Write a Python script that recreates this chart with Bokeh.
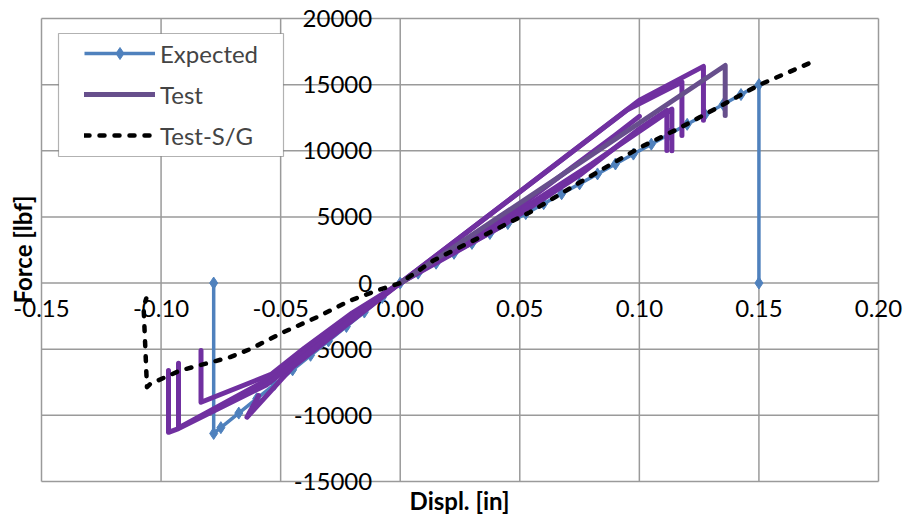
from bokeh.plotting import figure
from bokeh.models import (Range1d, LinearAxis, FixedTicker, NumeralTickFormatter,
                          Legend, LegendItem, BoxAnnotation, Label)
from bokeh.embed import file_html
from bokeh.resources import INLINE

# ---------------- data ----------------
x_ticks = [-0.15, -0.10, -0.05, 0.0, 0.05, 0.10, 0.15, 0.20]
y_ticks = [-15000, -10000, -5000, 0, 5000, 10000, 15000, 20000]

expected_x = [0.15, 0.15, 0.1425, 0.135, 0.1275, 0.12, 0.1125, 0.105, 0.0975, 0.09, 0.0825,
              0.075, 0.0675, 0.06, 0.0525, 0.045, 0.0375, 0.03, 0.0225, 0.015, 0.0075, 0.0,
              -0.0075, -0.015, -0.0225, -0.03, -0.0375, -0.045, -0.0525, -0.06, -0.0675,
              -0.075, -0.078, -0.078]
expected_y = [0, 15000, 14250, 13500, 12750, 12000, 11250, 10500, 9750, 9000, 8250,
              7500, 6750, 6000, 5250, 4500, 3750, 3000, 2250, 1500, 750, 0,
              -1090, -2190, -3280, -4370, -5460, -6560, -7650, -8740, -9830,
              -10930, -11370, 0]

# Test: individual load records (load to peak, then force drop)
test_cycles_x = [
    [0, 0.042, 0.075, 0.1003, 0.1115, 0.1115],
    [0, 0.045, 0.080, 0.1136, 0.1136],
    [0, 0.050, 0.090, 0.1000],
    [0, 0.095, 0.1178, 0.1178],
    [0, 0.1003, 0.1268, 0.1268],
    [0, -0.045, -0.0641, -0.0592],
    [0, -0.020, -0.040, -0.054, -0.0833, -0.0833],
    [0, -0.020, -0.040, -0.055, -0.0927, -0.0927],
    [0, -0.020, -0.040, -0.056, -0.0927, -0.0969, -0.0969],
]
test_cycles_y = [
    [0, 4250, 8150, 11700, 13050, 10030],
    [0, 4900, 9000, 13150, 10000],
    [0, 5800, 11200, 12600],
    [0, 13100, 15200, 11150],
    [0, 13850, 16380, 12300],
    [0, -6350, -10140, -8500],
    [0, -2250, -4900, -6900, -9010, -5100],
    [0, -2450, -5200, -7250, -10950, -6060],
    [0, -2650, -5500, -7700, -11000, -11280, -6610],
]
test_last_x = [0, 0.1359, 0.1359]
test_last_y = [0, 16450, 12670]

sg_x = [0.1707, 0.1498, 0.1254, 0.1163, 0.1003, 0.075, 0.0543, 0.0334, 0.0139, 0.0,
        -0.0097, -0.0209, -0.0348, -0.0488, -0.0627, -0.0711, -0.092, -0.1045, -0.1059,
        -0.1073, -0.1062]
sg_y = [16590, 14950, 12550, 11670, 10250, 7600, 5360, 3470, 1710, 0,
        -560, -1320, -2580, -3710, -4990, -5600, -6610, -7620, -7870,
        -1820, -1165]

# ---------------- layout (pixels) ----------------
W, H = 904, 516
PL, PR, PT, PB = 41, 878, 18, 481          # plot-area edges in pixels
X0, X1 = x_ticks[0], x_ticks[-1]
Y0, Y1 = y_ticks[0], y_ticks[-1]
sx = (X1 - X0) / (PR - PL)
sy = (Y1 - Y0) / (PB - PT)


def px2x(px):
    return X0 + (px - PL) * sx


def px2y(py):
    return Y1 - (py - PT) * sy


FONT = "Lato"
GRID = "#9a9a9a"
BLUE = "#4F81BD"
PURPLE = "#7030A0"
PURPLE2 = "#674F8C"

p = figure(width=W, height=H,
           x_range=Range1d(px2x(0), px2x(W)), y_range=Range1d(px2y(H), px2y(0)),
           x_axis_location=None, y_axis_location=None,
           output_backend="svg", toolbar_location=None,
           min_border=0, min_border_left=0, min_border_right=0,
           min_border_top=0, min_border_bottom=0,
           background_fill_color="white", border_fill_color="white")
p.outline_line_color = None
p.xgrid.visible = False
p.ygrid.visible = False

# grid lines restricted to the plot area
p.segment(x0=x_ticks, y0=[Y0] * len(x_ticks), x1=x_ticks, y1=[Y1] * len(x_ticks),
          line_color=GRID, line_width=1.5, level="underlay")
p.segment(x0=[X0] * len(y_ticks), y0=y_ticks, x1=[X1] * len(y_ticks), y1=y_ticks,
          line_color=GRID, line_width=1.5, level="underlay")

xaxis = LinearAxis(fixed_location=0, ticker=FixedTicker(ticks=x_ticks),
                   formatter=NumeralTickFormatter(format="0.00"),
                   axis_line_color=None, major_tick_line_color=None, minor_tick_line_color=None,
                   major_tick_in=0, major_tick_out=0, major_label_standoff=17,
                   major_label_text_font=FONT, major_label_text_font_size="24px",
                   major_label_text_color="black", level="underlay")
yaxis = LinearAxis(fixed_location=0, ticker=FixedTicker(ticks=y_ticks),
                   formatter=NumeralTickFormatter(format="0"),
                   axis_line_color=None, major_tick_line_color=None, minor_tick_line_color=None,
                   major_tick_in=0, major_tick_out=0, major_label_standoff=28,
                   major_label_text_font=FONT, major_label_text_font_size="24px",
                   major_label_text_color="black", level="underlay")
p.add_layout(xaxis, "below")
p.add_layout(yaxis, "left")

p.add_layout(Label(x=px2x(22), y=px2y(249), text="Force [lbf]", angle=90, angle_units="deg",
                   text_align="center", text_baseline="middle", text_font=FONT,
                   text_font_size="24px", text_font_style="bold", text_color="black"))
p.add_layout(Label(x=px2x(459), y=px2y(500), text="Displ. [in]",
                   text_align="center", text_baseline="middle", text_font=FONT,
                   text_font_size="24px", text_font_style="bold", text_color="black"))

r_exp_line = p.line(expected_x, expected_y, line_color=BLUE, line_width=3.5)
r_exp_mark = p.scatter(expected_x, expected_y, marker="diamond", size=12,
                       fill_color=BLUE, line_color=BLUE)
p.multi_line(test_cycles_x, test_cycles_y, line_color=PURPLE, line_width=5,
             line_join="round", line_cap="round")
r_test = p.line(test_last_x, test_last_y, line_color=PURPLE2, line_width=5,
                line_join="round", line_cap="round")
r_sg = p.line(sg_x, sg_y, line_color="black", line_width=4.5, line_dash="5 10",
              line_cap="round", line_join="round")

# legend frame (white box) and legend entries
box = BoxAnnotation(left=px2x(58), right=px2x(283), top=px2y(33), bottom=px2y(156),
                    fill_color="white", fill_alpha=1.0, line_color="black", line_width=1.2,
                    level="annotation")
p.add_layout(box)

legend = Legend(items=[LegendItem(label="Expected", renderers=[r_exp_line, r_exp_mark]),
                       LegendItem(label="Test", renderers=[r_test]),
                       LegendItem(label="Test-S/G", renderers=[r_sg])],
                location=(84, H - 150), padding=0, spacing=11, margin=0,
                glyph_width=71, glyph_height=30, label_height=30, label_standoff=5,
                label_text_font=FONT, label_text_font_size="24px",
                border_line_color=None, background_fill_alpha=0)
p.add_layout(legend)

open("out.html", "w").write(file_html(p, INLINE))
